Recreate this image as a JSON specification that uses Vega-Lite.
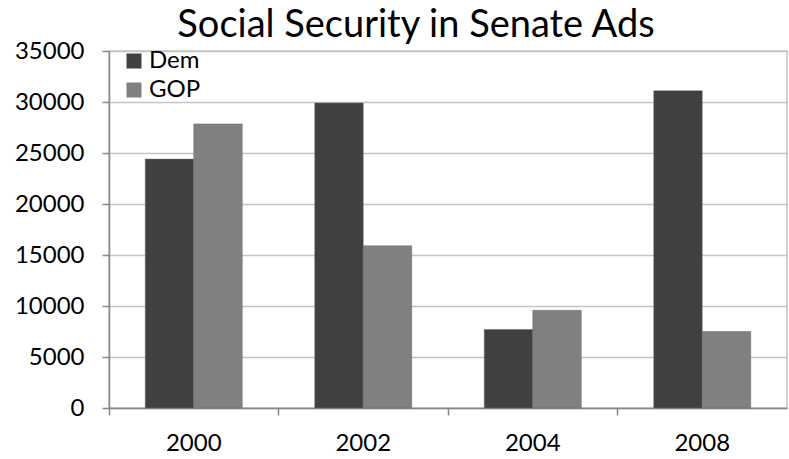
{
  "$schema": "https://vega.github.io/schema/vega-lite/v6.json",
  "autosize": {"type": "none"},
  "padding": {"left": 109, "top": 51, "right": 2, "bottom": 51},
  "width": 678,
  "height": 357,
  "background": "white",
  "title": {
    "text": "Social Security in Senate Ads",
    "font": "Lato",
    "fontSize": 38,
    "fontWeight": "normal",
    "color": "black",
    "anchor": "middle",
    "frame": "group",
    "dx": -32,
    "offset": -6
  },
  "data": {
    "values": [
      {"year": "2000", "party": "Dem", "value": 24400},
      {"year": "2000", "party": "GOP", "value": 27850},
      {"year": "2002", "party": "Dem", "value": 29900},
      {"year": "2002", "party": "GOP", "value": 15900},
      {"year": "2004", "party": "Dem", "value": 7700},
      {"year": "2004", "party": "GOP", "value": 9580},
      {"year": "2008", "party": "Dem", "value": 31100},
      {"year": "2008", "party": "GOP", "value": 7500}
    ]
  },
  "mark": {"type": "bar", "stroke": "#6a6a6a", "strokeWidth": 0.5},
  "encoding": {
    "x": {
      "field": "year",
      "type": "nominal",
      "scale": {"paddingInner": 0, "paddingOuter": 0},
      "axis": {
        "title": null,
        "labelAngle": 0,
        "labelFont": "Lato",
        "labelFontSize": 24,
        "labelColor": "black",
        "labelPadding": 16,
        "domainColor": "#888888",
        "domainWidth": 1.5,
        "tickColor": "#888888",
        "tickWidth": 1.5,
        "tickSize": 7,
        "bandPosition": 0,
        "grid": false
      }
    },
    "xOffset": {"field": "party", "type": "nominal", "scale": {"paddingInner": 0, "paddingOuter": 0.7474}},
    "y": {
      "field": "value",
      "type": "quantitative",
      "scale": {"domain": [0, 35000], "nice": false},
      "axis": {
        "title": null,
        "format": "d",
        "values": [0, 5000, 10000, 15000, 20000, 25000, 30000, 35000],
        "labelFont": "Lato",
        "labelFontSize": 24,
        "labelColor": "black",
        "labelPadding": 18,
        "domainColor": "#888888",
        "domainWidth": 1.5,
        "tickColor": "#888888",
        "tickWidth": 1.5,
        "tickSize": 7,
        "gridColor": "#c4c4c4",
        "gridWidth": 1.5
      }
    },
    "color": {
      "field": "party",
      "type": "nominal",
      "scale": {"domain": ["Dem", "GOP"], "range": ["#404040", "#808080"]},
      "legend": {
        "title": null,
        "orient": "none",
        "legendX": 13,
        "legendY": -2,
        "symbolType": "square",
        "symbolSize": 225,
        "symbolStrokeWidth": 0,
        "labelFont": "Lato",
        "labelFontSize": 24,
        "labelColor": "black",
        "labelOffset": 3,
        "rowPadding": 5
      }
    }
  },
  "config": {"view": {"stroke": "#c4c4c4", "strokeWidth": 1.5}}
}
